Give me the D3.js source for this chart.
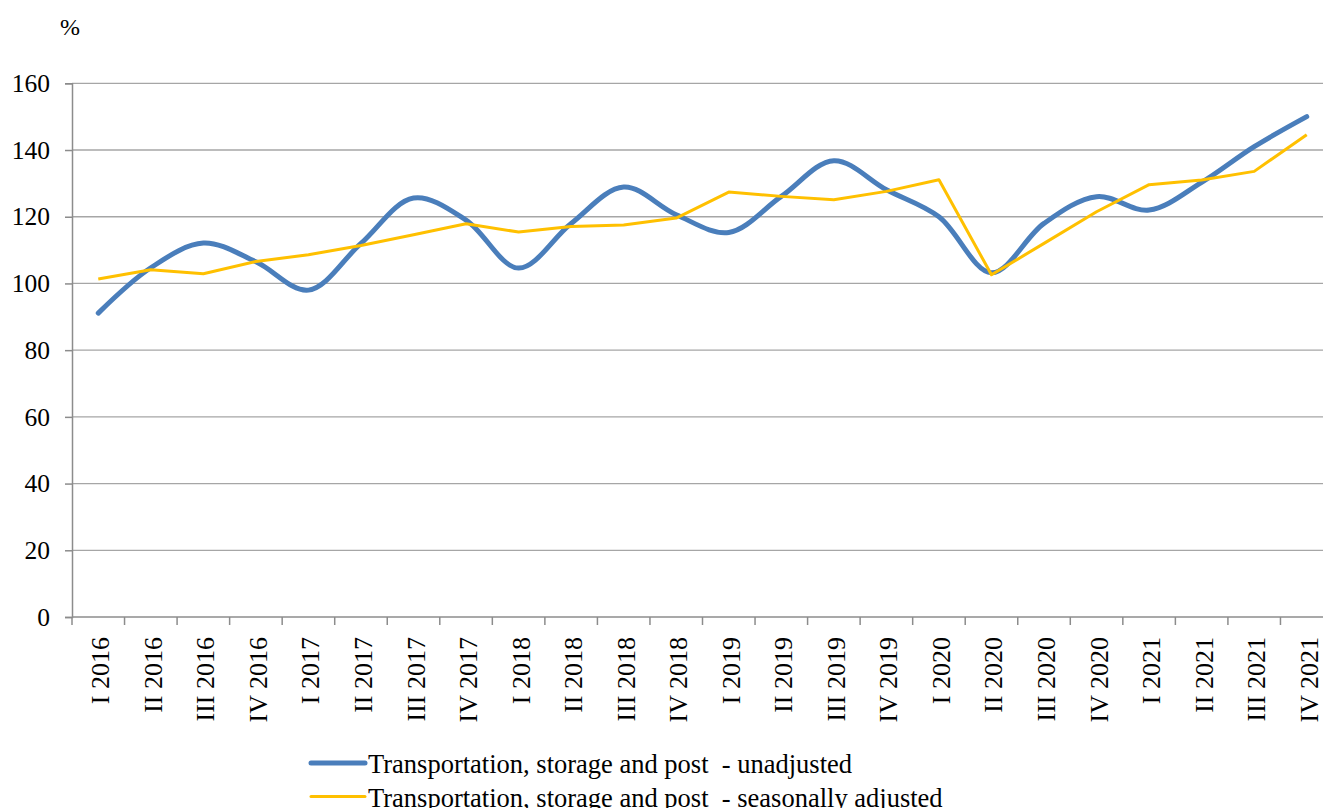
<!DOCTYPE html>
<html>
<head>
<meta charset="utf-8">
<script src="https://cdn.jsdelivr.net/npm/d3@7"></script>
<style>
  body { margin: 0; background: #fff; }
  text { font-family: "Liberation Serif", "Times New Roman", serif; fill: #000; }
</style>
</head>
<body>
<div id="canvas"></div>
<script>
"use strict"

// quarters along the x axis
let quarters = ["I 2016", "II 2016", "III 2016", "IV 2016",
    "I 2017", "II 2017", "III 2017", "IV 2017",
    "I 2018", "II 2018", "III 2018", "IV 2018",
    "I 2019", "II 2019", "III 2019", "IV 2019",
    "I 2020", "II 2020", "III 2020", "IV 2020",
    "I 2021", "II 2021", "III 2021", "IV 2021"];

// Transportation, storage and post - unadjusted
let unadjusted = [91.1, 104.7, 112.1, 106.5, 98, 112, 125.6, 119,
    104.6, 118, 128.9, 120.6, 115.3, 126.1, 136.8, 128.1,
    120, 103.2, 118, 126, 122, 130.3, 141, 150];

// Transportation, storage and post - seasonally adjusted
let adjusted = [101.3, 104.1, 102.9, 106.6, 108.6, 111.4, 114.6, 117.9,
    115.4, 117.1, 117.5, 119.6, 127.4, 126.1, 125.1, 127.6,
    131.1, 102.6, 112, 121.5, 129.6, 131, 133.6, 144.6];

let yTicks = [0, 20, 40, 60, 80, 100, 120, 140, 160];

let seriesNames = ["Transportation, storage and post  - unadjusted",
    "Transportation, storage and post  - seasonally adjusted"];

let width = 1323, height = 808;

let drawing = d3.select("#canvas")
    .append("svg")
    .attr("width", width)
    .attr("height", height);

// plot area (right edge runs past the picture, as in the original)
let plotLeft = 72, plotRight = 1333, plotTop = 83.3, plotBottom = 617;

let x = d3.scaleBand()
    .domain(quarters)
    .range([plotLeft, plotRight]);

let y = d3.scaleLinear()
    .domain([0, 160])
    .range([plotBottom, plotTop]);

// gridlines
drawing.append("g")
    .selectAll("line")
    .data(yTicks.filter(d => d > 0))
    .join("line")
    .attr("x1", plotLeft)
    .attr("x2", plotRight)
    .attr("y1", d => y(d))
    .attr("y2", d => y(d))
    .attr("stroke", "#a6a6a6")
    .attr("stroke-width", 1.3);

// y axis
let yAxis = drawing.append("g")
    .attr("transform", `translate(${plotLeft},0)`)
    .call(d3.axisLeft(y).tickValues(yTicks).tickSize(7).tickPadding(15));
yAxis.select(".domain").attr("stroke", "#8c8c8c").attr("stroke-width", 1.5);
yAxis.selectAll(".tick line").attr("stroke", "#8c8c8c").attr("stroke-width", 1.5);
yAxis.selectAll(".tick text")
    .attr("font-size", 25.5)
    .attr("font-family", "Liberation Serif, serif")
    .attr("fill", "#000");

// x axis with ticks at band boundaries
let xAxisG = drawing.append("g")
    .attr("transform", `translate(0,${plotBottom})`);
xAxisG.append("line")
    .attr("x1", plotLeft)
    .attr("x2", plotRight)
    .attr("stroke", "#8c8c8c")
    .attr("stroke-width", 1.5);
let bounds = quarters.map(q => x(q)).concat([x(quarters[quarters.length - 1]) + x.bandwidth()]);
xAxisG.selectAll(".bound")
    .data(bounds)
    .join("line")
    .attr("class", "bound")
    .attr("x1", d => d)
    .attr("x2", d => d)
    .attr("y1", 0)
    .attr("y2", 8)
    .attr("stroke", "#8c8c8c")
    .attr("stroke-width", 1.5);
xAxisG.selectAll(".lab")
    .data(quarters)
    .join("text")
    .attr("class", "lab")
    .attr("transform", d => `translate(${x(d) + x.bandwidth() / 2 + 11},20) rotate(-90)`)
    .attr("text-anchor", "end")
    .attr("font-size", 26)
    .text(d => d);

// "%" unit label
drawing.append("text")
    .attr("x", 70)
    .attr("y", 35)
    .attr("text-anchor", "middle")
    .attr("font-size", 24)
    .text("%");

let cx = (d, i) => x(quarters[i]) + x.bandwidth() / 2;

// unadjusted series (smoothed)
drawing.append("path")
    .datum(unadjusted)
    .attr("fill", "none")
    .attr("stroke", "#4a7ebb")
    .attr("stroke-width", 5)
    .attr("stroke-linecap", "round")
    .attr("d", d3.line().x(cx).y(d => y(d)).curve(d3.curveCatmullRom.alpha(0.5)));

// seasonally adjusted series
drawing.append("path")
    .datum(adjusted)
    .attr("fill", "none")
    .attr("stroke", "#ffc000")
    .attr("stroke-width", 3)
    .attr("stroke-linejoin", "round")
    .attr("d", d3.line().x(cx).y(d => y(d)));

// legend
let legendColors = ["#4a7ebb", "#ffc000"];
let legendWidths = [5, 3];
let legend = drawing.append("g")
    .selectAll("g")
    .data(seriesNames)
    .join("g")
    .attr("transform", (d, i) => `translate(311,${763 + i * 33.5})`);
legend.append("line")
    .attr("x1", 0)
    .attr("x2", 54)
    .attr("stroke", (d, i) => legendColors[i])
    .attr("stroke-width", (d, i) => legendWidths[i])
    .attr("stroke-linecap", "round");
legend.append("text")
    .attr("x", 57)
    .attr("y", 10)
    .attr("font-size", 26.5)
    .style("white-space", "pre")
    .attr("xml:space", "preserve")
    .text(d => d);
</script>
</body>
</html>
